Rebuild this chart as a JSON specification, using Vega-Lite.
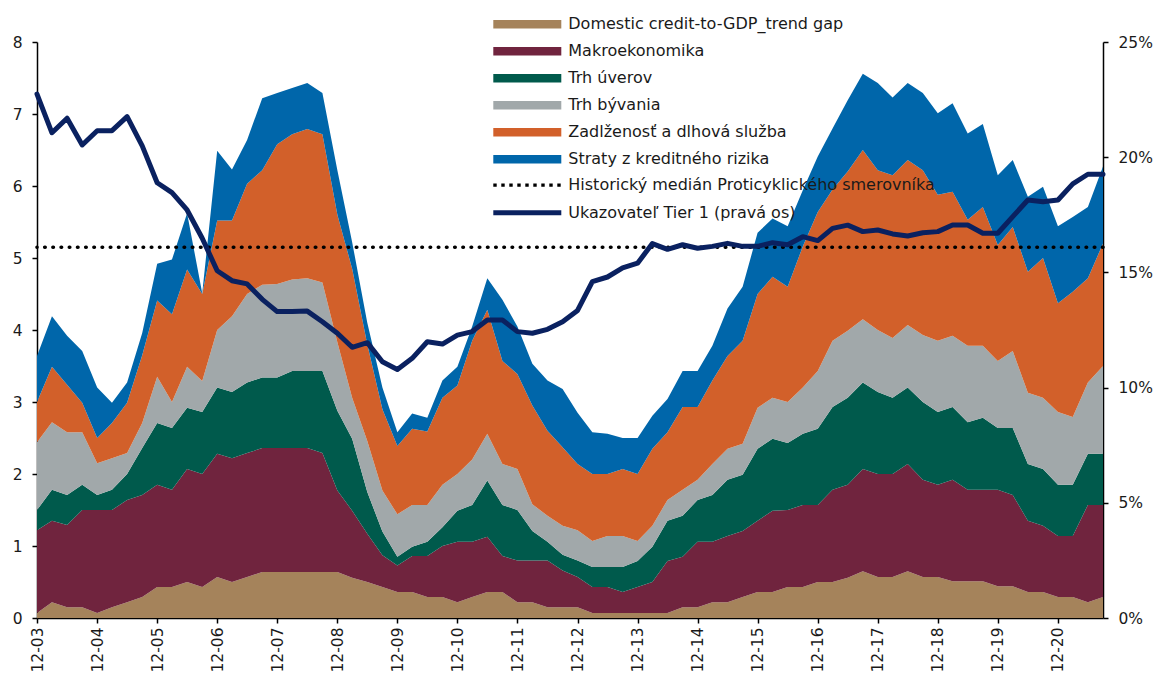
{
  "$schema": "https://vega.github.io/schema/vega-lite/v6.json",
  "width": 1066,
  "height": 576,
  "autosize": "none",
  "padding": {"left": 37, "top": 42, "right": 56, "bottom": 57},
  "config": {
    "font": "DejaVu Sans",
    "view": {"stroke": null},
    "axis": {"labelFont": "DejaVu Sans", "labelFontSize": 15.5, "labelColor": "#1a1a1a", "domainColor": "#000", "tickColor": "#000", "tickSize": 5, "domainWidth": 1.5, "tickWidth": 1.5, "grid": false, "title": null},
    "legend": {"labelFont": "DejaVu Sans", "labelFontSize": 16, "labelColor": "#1a1a1a", "labelLimit": 600, "padding": 0, "offset": 0, "title": null}
  },
  "data": {"values": [
    {"d":"2003-12","gap":0.07,"makro":1.15,"uver":0.28,"byv":0.94,"zadl":0.56,"straty":0.64,"tier":22.74},
    {"d":"2004-03","gap":0.22,"makro":1.13,"uver":0.43,"byv":0.94,"zadl":0.77,"straty":0.70,"tier":21.06},
    {"d":"2004-06","gap":0.15,"makro":1.14,"uver":0.42,"byv":0.87,"zadl":0.66,"straty":0.68,"tier":21.69},
    {"d":"2004-09","gap":0.15,"makro":1.35,"uver":0.35,"byv":0.73,"zadl":0.41,"straty":0.72,"tier":20.53},
    {"d":"2004-12","gap":0.07,"makro":1.43,"uver":0.21,"byv":0.44,"zadl":0.35,"straty":0.70,"tier":21.15},
    {"d":"2005-03","gap":0.15,"makro":1.35,"uver":0.28,"byv":0.44,"zadl":0.49,"straty":0.28,"tier":21.15},
    {"d":"2005-06","gap":0.22,"makro":1.42,"uver":0.36,"byv":0.29,"zadl":0.70,"straty":0.28,"tier":21.76},
    {"d":"2005-09","gap":0.29,"makro":1.42,"uver":0.65,"byv":0.35,"zadl":0.94,"straty":0.31,"tier":20.49},
    {"d":"2005-12","gap":0.43,"makro":1.42,"uver":0.86,"byv":0.64,"zadl":1.06,"straty":0.51,"tier":18.89},
    {"d":"2006-03","gap":0.43,"makro":1.35,"uver":0.86,"byv":0.36,"zadl":1.22,"straty":0.76,"tier":18.46},
    {"d":"2006-06","gap":0.50,"makro":1.57,"uver":0.85,"byv":0.57,"zadl":1.35,"straty":0.78,"tier":17.71},
    {"d":"2006-09","gap":0.43,"makro":1.57,"uver":0.86,"byv":0.43,"zadl":1.21,"straty":0.01,"tier":16.48},
    {"d":"2006-12","gap":0.57,"makro":1.71,"uver":0.92,"byv":0.80,"zadl":1.52,"straty":0.97,"tier":15.07},
    {"d":"2007-03","gap":0.50,"makro":1.72,"uver":0.92,"byv":1.05,"zadl":1.33,"straty":0.71,"tier":14.64},
    {"d":"2007-06","gap":0.57,"makro":1.72,"uver":0.98,"byv":1.23,"zadl":1.53,"straty":0.61,"tier":14.50},
    {"d":"2007-09","gap":0.64,"makro":1.72,"uver":0.98,"byv":1.29,"zadl":1.59,"straty":1.00,"tier":13.83},
    {"d":"2007-12","gap":0.64,"makro":1.72,"uver":0.98,"byv":1.30,"zadl":1.94,"straty":0.71,"tier":13.30},
    {"d":"2008-03","gap":0.64,"makro":1.72,"uver":1.07,"byv":1.27,"zadl":2.02,"straty":0.64,"tier":13.30},
    {"d":"2008-06","gap":0.64,"makro":1.72,"uver":1.07,"byv":1.29,"zadl":2.07,"straty":0.64,"tier":13.32},
    {"d":"2008-09","gap":0.64,"makro":1.65,"uver":1.14,"byv":1.23,"zadl":2.06,"straty":0.57,"tier":12.86},
    {"d":"2008-12","gap":0.64,"makro":1.13,"uver":1.11,"byv":0.95,"zadl":1.77,"straty":0.62,"tier":12.36},
    {"d":"2009-03","gap":0.56,"makro":0.93,"uver":1.00,"byv":0.57,"zadl":1.79,"straty":0.37,"tier":11.75},
    {"d":"2009-06","gap":0.50,"makro":0.67,"uver":0.58,"byv":0.71,"zadl":1.34,"straty":0.30,"tier":11.95},
    {"d":"2009-09","gap":0.43,"makro":0.44,"uver":0.33,"byv":0.57,"zadl":1.13,"straty":0.30,"tier":11.12},
    {"d":"2009-12","gap":0.36,"makro":0.37,"uver":0.12,"byv":0.59,"zadl":0.95,"straty":0.19,"tier":10.79},
    {"d":"2010-03","gap":0.36,"makro":0.50,"uver":0.13,"byv":0.58,"zadl":1.06,"straty":0.21,"tier":11.27},
    {"d":"2010-06","gap":0.29,"makro":0.57,"uver":0.20,"byv":0.51,"zadl":1.02,"straty":0.19,"tier":11.99},
    {"d":"2010-09","gap":0.29,"makro":0.71,"uver":0.26,"byv":0.59,"zadl":1.21,"straty":0.24,"tier":11.89},
    {"d":"2010-12","gap":0.22,"makro":0.84,"uver":0.43,"byv":0.51,"zadl":1.23,"straty":0.26,"tier":12.28},
    {"d":"2011-03","gap":0.29,"makro":0.77,"uver":0.51,"byv":0.63,"zadl":1.65,"straty":0.20,"tier":12.43},
    {"d":"2011-06","gap":0.36,"makro":0.77,"uver":0.78,"byv":0.65,"zadl":1.72,"straty":0.44,"tier":12.93},
    {"d":"2011-09","gap":0.36,"makro":0.50,"uver":0.71,"byv":0.57,"zadl":1.43,"straty":0.85,"tier":12.93},
    {"d":"2011-12","gap":0.22,"makro":0.58,"uver":0.70,"byv":0.57,"zadl":1.32,"straty":0.66,"tier":12.43},
    {"d":"2012-03","gap":0.22,"makro":0.58,"uver":0.41,"byv":0.37,"zadl":1.37,"straty":0.58,"tier":12.36},
    {"d":"2012-06","gap":0.15,"makro":0.65,"uver":0.26,"byv":0.36,"zadl":1.18,"straty":0.70,"tier":12.53},
    {"d":"2012-09","gap":0.15,"makro":0.51,"uver":0.22,"byv":0.40,"zadl":1.09,"straty":0.81,"tier":12.86},
    {"d":"2012-12","gap":0.15,"makro":0.42,"uver":0.23,"byv":0.42,"zadl":0.92,"straty":0.71,"tier":13.35},
    {"d":"2013-03","gap":0.07,"makro":0.36,"uver":0.28,"byv":0.36,"zadl":0.93,"straty":0.58,"tier":14.6},
    {"d":"2013-06","gap":0.07,"makro":0.36,"uver":0.28,"byv":0.43,"zadl":0.86,"straty":0.56,"tier":14.8},
    {"d":"2013-09","gap":0.07,"makro":0.29,"uver":0.35,"byv":0.43,"zadl":0.93,"straty":0.43,"tier":15.2},
    {"d":"2013-12","gap":0.07,"makro":0.36,"uver":0.36,"byv":0.28,"zadl":0.93,"straty":0.50,"tier":15.4},
    {"d":"2014-03","gap":0.07,"makro":0.43,"uver":0.49,"byv":0.29,"zadl":1.07,"straty":0.46,"tier":16.25},
    {"d":"2014-06","gap":0.07,"makro":0.72,"uver":0.56,"byv":0.29,"zadl":0.94,"straty":0.46,"tier":16.0},
    {"d":"2014-09","gap":0.15,"makro":0.70,"uver":0.57,"byv":0.36,"zadl":1.15,"straty":0.50,"tier":16.2},
    {"d":"2014-12","gap":0.15,"makro":0.91,"uver":0.58,"byv":0.28,"zadl":1.01,"straty":0.50,"tier":16.05},
    {"d":"2015-03","gap":0.22,"makro":0.84,"uver":0.65,"byv":0.43,"zadl":1.16,"straty":0.48,"tier":16.13},
    {"d":"2015-06","gap":0.22,"makro":0.92,"uver":0.78,"byv":0.43,"zadl":1.29,"straty":0.66,"tier":16.26},
    {"d":"2015-09","gap":0.29,"makro":0.92,"uver":0.78,"byv":0.43,"zadl":1.43,"straty":0.75,"tier":16.13},
    {"d":"2015-12","gap":0.36,"makro":0.99,"uver":1.00,"byv":0.57,"zadl":1.58,"straty":0.85,"tier":16.13},
    {"d":"2016-03","gap":0.36,"makro":1.13,"uver":1.00,"byv":0.57,"zadl":1.68,"straty":0.81,"tier":16.29},
    {"d":"2016-06","gap":0.43,"makro":1.07,"uver":0.93,"byv":0.57,"zadl":1.60,"straty":0.84,"tier":16.2},
    {"d":"2016-09","gap":0.43,"makro":1.14,"uver":0.99,"byv":0.64,"zadl":1.96,"straty":0.78,"tier":16.55},
    {"d":"2016-12","gap":0.50,"makro":1.07,"uver":1.06,"byv":0.80,"zadl":2.21,"straty":0.77,"tier":16.38},
    {"d":"2017-03","gap":0.50,"makro":1.28,"uver":1.15,"byv":0.92,"zadl":2.10,"straty":0.85,"tier":16.91},
    {"d":"2017-06","gap":0.56,"makro":1.29,"uver":1.21,"byv":0.93,"zadl":2.21,"straty":0.99,"tier":17.05},
    {"d":"2017-09","gap":0.65,"makro":1.42,"uver":1.20,"byv":0.88,"zadl":2.35,"straty":1.06,"tier":16.77},
    {"d":"2017-12","gap":0.57,"makro":1.43,"uver":1.14,"byv":0.86,"zadl":2.22,"straty":1.21,"tier":16.84},
    {"d":"2018-03","gap":0.57,"makro":1.43,"uver":1.06,"byv":0.83,"zadl":2.26,"straty":1.08,"tier":16.67},
    {"d":"2018-06","gap":0.65,"makro":1.49,"uver":1.06,"byv":0.87,"zadl":2.29,"straty":1.07,"tier":16.58},
    {"d":"2018-09","gap":0.57,"makro":1.35,"uver":1.08,"byv":0.93,"zadl":2.29,"straty":1.07,"tier":16.72},
    {"d":"2018-12","gap":0.57,"makro":1.28,"uver":1.01,"byv":0.99,"zadl":2.03,"straty":1.13,"tier":16.77},
    {"d":"2019-03","gap":0.51,"makro":1.41,"uver":1.01,"byv":0.99,"zadl":2.00,"straty":1.23,"tier":17.06},
    {"d":"2019-06","gap":0.51,"makro":1.27,"uver":0.94,"byv":1.06,"zadl":1.75,"straty":1.20,"tier":17.06},
    {"d":"2019-09","gap":0.51,"makro":1.27,"uver":1.00,"byv":1.00,"zadl":1.93,"straty":1.15,"tier":16.70},
    {"d":"2019-12","gap":0.44,"makro":1.34,"uver":0.86,"byv":0.93,"zadl":1.61,"straty":0.97,"tier":16.70},
    {"d":"2020-03","gap":0.44,"makro":1.27,"uver":0.93,"byv":1.07,"zadl":1.72,"straty":0.93,"tier":17.42},
    {"d":"2020-06","gap":0.36,"makro":0.99,"uver":0.79,"byv":0.99,"zadl":1.68,"straty":1.04,"tier":18.14},
    {"d":"2020-09","gap":0.36,"makro":0.92,"uver":0.79,"byv":0.99,"zadl":1.94,"straty":0.99,"tier":18.07},
    {"d":"2020-12","gap":0.29,"makro":0.85,"uver":0.71,"byv":1.01,"zadl":1.51,"straty":1.07,"tier":18.14},
    {"d":"2021-03","gap":0.29,"makro":0.85,"uver":0.71,"byv":0.94,"zadl":1.74,"straty":1.04,"tier":18.84},
    {"d":"2021-06","gap":0.22,"makro":1.35,"uver":0.71,"byv":0.99,"zadl":1.45,"straty":0.99,"tier":19.26},
    {"d":"2021-09","gap":0.29,"makro":1.28,"uver":0.71,"byv":1.22,"zadl":1.70,"straty":1.07,"tier":19.26}
  ]},
  "layer": [
    {
      "transform": [
        {"fold": ["gap", "makro", "uver", "byv", "zadl", "straty"], "as": ["k", "v"]},
        {"lookup": "k", "from": {"data": {"values": [
          {"k": "gap", "name": "Domestic credit-to-GDP_trend gap", "o": 1},
          {"k": "makro", "name": "Makroekonomika", "o": 2},
          {"k": "uver", "name": "Trh úverov", "o": 3},
          {"k": "byv", "name": "Trh bývania", "o": 4},
          {"k": "zadl", "name": "Zadlženosť a dlhová služba", "o": 5},
          {"k": "straty", "name": "Straty z kreditného rizika", "o": 6}
        ]}, "key": "k", "fields": ["name", "o"]}}
      ],
      "mark": {"type": "area", "interpolate": "linear"},
      "encoding": {
        "x": {"field": "d", "type": "temporal",
          "scale": {"type": "utc", "nice": false, "domain": [{"year": 2003, "month": 12, "date": 1, "utc": true}, {"year": 2021, "month": 9, "date": 1, "utc": true}]},
          "axis": {"labelExpr": "utcFormat(datum.value, '%m-%y')", "labelAngle": -90, "labelPadding": 4, "labelFontSize": 15.5,
            "values": [
              {"year": 2003, "month": 12, "date": 1, "utc": true}, {"year": 2004, "month": 12, "date": 1, "utc": true},
              {"year": 2005, "month": 12, "date": 1, "utc": true}, {"year": 2006, "month": 12, "date": 1, "utc": true},
              {"year": 2007, "month": 12, "date": 1, "utc": true}, {"year": 2008, "month": 12, "date": 1, "utc": true},
              {"year": 2009, "month": 12, "date": 1, "utc": true}, {"year": 2010, "month": 12, "date": 1, "utc": true},
              {"year": 2011, "month": 12, "date": 1, "utc": true}, {"year": 2012, "month": 12, "date": 1, "utc": true},
              {"year": 2013, "month": 12, "date": 1, "utc": true}, {"year": 2014, "month": 12, "date": 1, "utc": true},
              {"year": 2015, "month": 12, "date": 1, "utc": true}, {"year": 2016, "month": 12, "date": 1, "utc": true},
              {"year": 2017, "month": 12, "date": 1, "utc": true}, {"year": 2018, "month": 12, "date": 1, "utc": true},
              {"year": 2019, "month": 12, "date": 1, "utc": true}, {"year": 2020, "month": 12, "date": 1, "utc": true}
            ]}},
        "y": {"field": "v", "type": "quantitative", "stack": "zero", "scale": {"domain": [0, 8], "nice": false, "zero": true},
          "axis": {"values": [0, 1, 2, 3, 4, 5, 6, 7, 8], "labelPadding": 10}},
        "color": {"field": "name", "type": "nominal",
          "scale": {"domain": ["Domestic credit-to-GDP_trend gap", "Makroekonomika", "Trh úverov", "Trh bývania", "Zadlženosť a dlhová služba", "Straty z kreditného rizika"],
                    "range": ["#A5835B", "#70243E", "#005A4C", "#A1A8AA", "#D2602A", "#0066AA"]},
          "legend": {"orient": "none", "legendX": 481.8, "legendY": -26.3, "direction": "vertical",
            "symbolType": "M-4,-0.5L4,-0.5L4,0.5L-4,0.5Z", "symbolSize": 289, "symbolStrokeWidth": 0,
            "labelOffset": 32.5, "rowPadding": 10}},
        "order": {"field": "o", "type": "quantitative"}
      }
    },
    {
      "data": {"values": [{"median": 5.15}]},
      "mark": {"type": "rule", "strokeDash": [0.5, 7.7], "strokeWidth": 3.6, "strokeCap": "round"},
      "encoding": {
        "y": {"field": "median", "type": "quantitative", "scale": {"domain": [0, 8], "nice": false}, "axis": null},
        "color": {"datum": "Historický medián Proticyklického smerovníka", "type": "nominal", "scale": {"range": ["#000000"]},
          "legend": {"orient": "none", "legendX": 479.8, "legendY": 132.6, "symbolType": "M-4,0L4,0", "symbolSize": 289,
            "symbolStrokeWidth": 3.4, "symbolDash": [3.4, 4.6], "labelOffset": 30.5}}
      }
    },
    {
      "mark": {"type": "line", "strokeWidth": 5, "strokeJoin": "round", "strokeCap": "round"},
      "encoding": {
        "x": {"field": "d", "type": "temporal"},
        "y": {"field": "tier", "type": "quantitative", "scale": {"domain": [0, 25], "nice": false},
          "axis": {"orient": "right", "values": [0, 5, 10, 15, 20, 25], "labelExpr": "datum.value + '%'", "labelPadding": 10}},
        "color": {"datum": "Ukazovateľ Tier 1 (pravá os)", "type": "nominal", "scale": {"range": ["#0A2160"]},
          "legend": {"orient": "none", "legendX": 479.3, "legendY": 159.7, "symbolType": "M-4,0L4,0", "symbolSize": 289,
            "symbolStrokeWidth": 5, "labelOffset": 30}}
      }
    }
  ],
  "resolve": {"scale": {"y": "independent", "color": "independent"}}
}
